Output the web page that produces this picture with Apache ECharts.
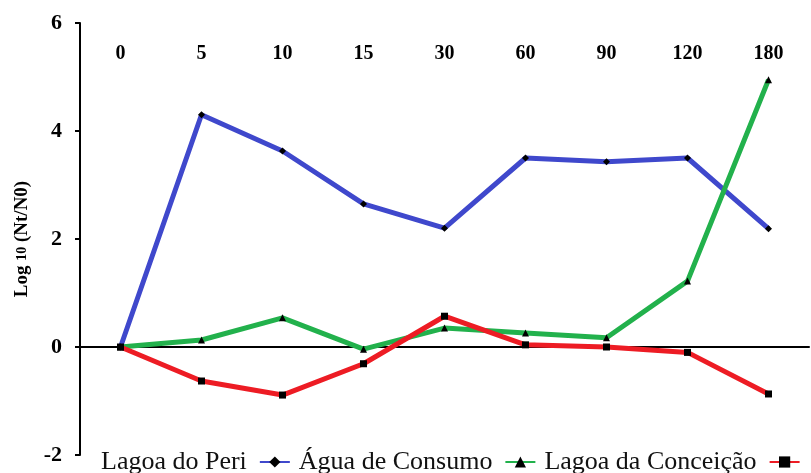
<!DOCTYPE html>
<html>
<head>
<meta charset="utf-8">
<script src="https://cdn.jsdelivr.net/npm/echarts@6/dist/echarts.min.js"></script>
<style>
  html, body { margin: 0; padding: 0; background: #fff; }
  #chart { width: 811px; height: 473px; }
</style>
</head>
<body>
<div id="chart"></div>
<script>
var categories = ['0', '5', '10', '15', '30', '60', '90', '120', '180'];
var seriesNames = ['Lagoa do Peri', 'Água de Consumo', 'Lagoa da Conceição'];
var peri = [0, 4.3, 3.63, 2.65, 2.2, 3.5, 3.43, 3.5, 2.19];
var consumo = [0, 0.13, 0.54, -0.04, 0.35, 0.26, 0.17, 1.22, 4.95];
var conceicao = [0, -0.63, -0.89, -0.31, 0.57, 0.04, 0.0, -0.1, -0.87];
var yTicks = [-2, 0, 2, 4, 6];

(function(){
  var myChart = echarts.init(document.getElementById('chart'));
  var serif = '"Liberation Serif", "DejaVu Serif", serif';

  function line(name, data, color, symbol) {
    return {
      name: name,
      type: 'line',
      data: data,
      xAxisIndex: 0,
      symbol: symbol,
      symbolSize: 7,
      itemStyle: { color: '#000' },
      lineStyle: { color: color, width: 5 },
      z: 3
    };
  }

  var option = {
    animation: false,
    grid: { left: 80, right: 2, top: 23, bottom: 18, containLabel: false },
    legend: {
      left: 96,
      bottom: -7,
      align: 'right',
      itemGap: 8,
      itemWidth: 30,
      itemHeight: 14,
      width: 800,
      textStyle: { fontFamily: serif, fontSize: 26, color: '#111', padding: [0, 8, 0, 0] },
      data: seriesNames
    },
    xAxis: [
      {
        type: 'category',
        data: categories,
        boundaryGap: true,
        axisLine: { onZero: true, lineStyle: { color: '#000', width: 2 } },
        axisTick: { alignWithLabel: true, length: 6, lineStyle: { color: '#000', width: 2 } },
        axisLabel: { show: false }
      },
      {
        type: 'category',
        data: categories,
        position: 'top',
        offset: -49,
        boundaryGap: true,
        axisLine: { show: false },
        axisTick: { show: false },
        axisLabel: { fontFamily: serif, fontWeight: 'bold', fontSize: 20, color: '#000' }
      }
    ],
    yAxis: {
      type: 'value',
      min: yTicks[0],
      max: yTicks[yTicks.length - 1],
      interval: 2,
      name: '{a|Log }{b|10}{a| (Nt/N0)}',
      nameLocation: 'middle',
      nameGap: 48,
      nameTextStyle: {
        fontFamily: serif, fontWeight: 'bold', color: '#000',
        rich: {
          a: { fontFamily: serif, fontWeight: 'bold', fontSize: 19, color: '#000' },
          b: { fontFamily: serif, fontWeight: 'bold', fontSize: 14, color: '#000' }
        }
      },
      axisLine: { show: true, lineStyle: { color: '#000', width: 2 } },
      axisTick: { show: true, length: 5, lineStyle: { color: '#000', width: 2 } },
      splitLine: { show: false },
      axisLabel: { fontFamily: serif, fontWeight: 'bold', fontSize: 22, color: '#000', margin: 18 }
    },
    series: [
      line(seriesNames[0], peri, '#3F48CC', 'diamond'),
      line(seriesNames[1], consumo, '#22B14C', 'triangle'),
      line(seriesNames[2], conceicao, '#ED1C24', 'rect')
    ]
  };
  myChart.setOption(option);
})();
</script>
</body>
</html>
